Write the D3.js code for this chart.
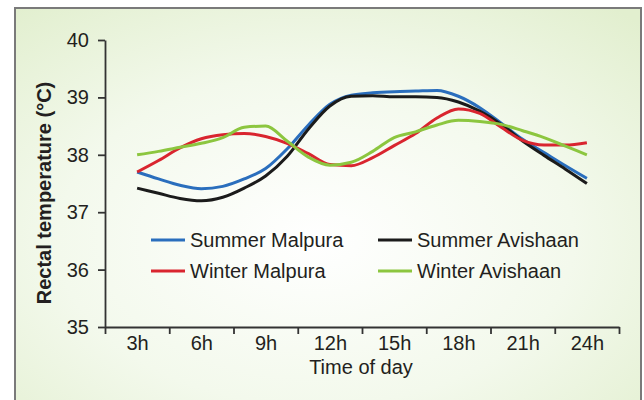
<!DOCTYPE html>
<html>
<head>
<meta charset="utf-8">
<script src="https://cdn.jsdelivr.net/npm/d3@7/dist/d3.min.js"></script>
<style>
  html, body { margin: 0; padding: 0; background: #fff; }
  svg { display: block; }
  text { font-family: "Liberation Sans", Arial, sans-serif; fill: #231f20; }
</style>
</head>
<body>
<svg id="chart" width="644" height="400"></svg>
<script>
// ---- data ----
const categories = ["3h", "6h", "9h", "12h", "15h", "18h", "21h", "24h"];
const categoryHours = [3, 6, 9, 12, 15, 18, 21, 24];
const hours = [3, 4, 5, 6, 7, 8, 9, 10, 11, 12, 13, 14, 15, 16, 17, 18, 19, 20, 21, 22, 23, 24];
const summerMalpura = [37.70, 37.58, 37.47, 37.41, 37.45, 37.58, 37.76, 38.10, 38.52, 38.88, 39.04, 39.08, 39.10, 39.11, 39.12, 39.02, 38.82, 38.55, 38.27, 38.04, 37.81, 37.59];
const summerAvishaan = [37.42, 37.33, 37.24, 37.20, 37.26, 37.42, 37.63, 37.97, 38.45, 38.85, 39.02, 39.03, 39.01, 39.01, 39.00, 38.92, 38.76, 38.53, 38.24, 37.99, 37.75, 37.50];
const winterMalpura = [37.70, 37.90, 38.12, 38.28, 38.35, 38.37, 38.32, 38.20, 38.02, 37.83, 37.81, 37.95, 38.16, 38.37, 38.64, 38.80, 38.72, 38.48, 38.25, 38.17, 38.17, 38.21];
const winterAvishaan = [38.00, 38.06, 38.13, 38.20, 38.30, 38.48, 38.50, 38.24, 37.96, 37.82, 37.87, 38.06, 38.30, 38.40, 38.52, 38.60, 38.58, 38.53, 38.42, 38.30, 38.15, 38.00];
const yTicks = [35, 36, 37, 38, 39, 40];
const seriesNames = ["Summer Malpura", "Summer Avishaan", "Winter Malpura", "Winter Avishaan"];
const seriesColors = ["#2a6ebd", "#1b1b1b", "#d9252f", "#8cc63f"];
const seriesValues = [summerMalpura, summerAvishaan, winterMalpura, winterAvishaan];

// ---- setup ----
const svg = d3.select("#chart");

// background panel
const defs = svg.append("defs");
const grad = defs.append("radialGradient").attr("id", "bg")
  .attr("cx", "48%").attr("cy", "58%").attr("r", "75%");
grad.append("stop").attr("offset", "0%").attr("stop-color", "#ffffff");
grad.append("stop").attr("offset", "55%").attr("stop-color", "#f3f9ec");
grad.append("stop").attr("offset", "100%").attr("stop-color", "#e2efcf");

svg.append("rect").attr("x", 15).attr("y", 8).attr("width", 626).attr("height", 400)
  .attr("fill", "url(#bg)").attr("stroke", "#7a7a7a").attr("stroke-width", 2);

const x0 = 105, x1 = 619, yTop = 40, yBot = 327;
const x = d3.scaleLinear().domain([1.5, 25.5]).range([x0, x1]);
const y = d3.scaleLinear().domain([35, 40]).range([yBot, yTop]);

// x axis: tick marks at category boundaries
const boundaries = categoryHours.map(h => h - 1.5).concat([categoryHours[categoryHours.length - 1] + 1.5]);
svg.append("g").attr("transform", `translate(0,${yBot})`)
  .call(d3.axisBottom(x).tickValues(boundaries).tickFormat("").tickSize(7).tickSizeOuter(0));
// x labels
const xLabG = svg.append("g").attr("transform", `translate(0,${yBot})`)
  .call(d3.axisBottom(x).tickValues(categoryHours).tickFormat((d, i) => categories[i]).tickSize(0).tickPadding(9));
xLabG.select(".domain").remove();

// y axis
svg.append("g").attr("transform", `translate(${x0},0)`)
  .call(d3.axisLeft(y).tickValues(yTicks).tickFormat(d3.format("d")).tickSize(7).tickSizeOuter(0).tickPadding(9));

svg.selectAll(".domain, .tick line").attr("stroke", "#333").attr("stroke-width", 1.8);
svg.selectAll(".tick text").style("font-size", "20px").attr("fill", "#231f20")
  .style("font-family", '"Liberation Sans", Arial, sans-serif');

// axis titles
svg.append("text").attr("x", 361).attr("y", 374).attr("text-anchor", "middle")
  .style("font-size", "20px").text("Time of day");
svg.append("text").attr("transform", "translate(51,193) rotate(-90)").attr("text-anchor", "middle")
  .style("font-size", "20px").style("font-weight", "bold").text("Rectal temperature (°C)");

// lines
const line = d3.line().x((d, i) => x(hours[i])).y(d => y(d)).curve(d3.curveMonotoneX);
seriesValues.forEach((vals, k) => {
  svg.append("path").datum(vals).attr("d", line).attr("fill", "none")
    .attr("stroke", seriesColors[k]).attr("stroke-width", 3).attr("stroke-linejoin", "round");
});

// legend
const legendPos = [[151, 240], [378, 240], [151, 271], [378, 271]];
seriesNames.forEach((name, k) => {
  const [lx, ly] = legendPos[k];
  svg.append("line").attr("x1", lx).attr("x2", lx + 34).attr("y1", ly).attr("y2", ly)
    .attr("stroke", seriesColors[k]).attr("stroke-width", 3);
  svg.append("text").attr("x", lx + 39).attr("y", ly + 7).style("font-size", "20px").text(name);
});
</script>
</body>
</html>
